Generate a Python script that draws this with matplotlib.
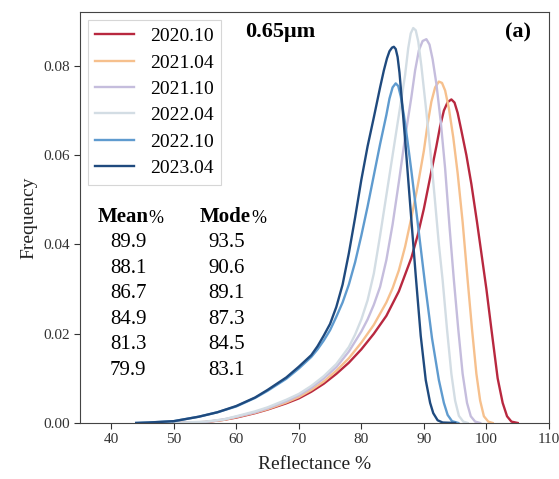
import matplotlib
matplotlib.use('Agg')
import matplotlib.pyplot as plt

plt.rcParams['font.family'] = ['Liberation Serif', 'DejaVu Serif']

# series
labels = ['2020.10', '2021.04', '2021.10', '2022.04', '2022.10', '2023.04']
colors = ['#b8283f', '#f6c08d', '#c5bddd', '#d3dde4', '#5f9bcf', '#1f4a7e']

x_2020_10 = [50, 55, 58, 60, 63, 65, 68, 70, 72, 74, 76, 78, 80, 82, 84, 86, 88, 89, 90, 91, 92,
             92.6, 93.2, 93.8, 94.4, 94.9, 95.4, 96.0, 96.8, 97.6, 98.5, 99.3, 100, 100.8, 101.8,
             102.6, 103.3, 104, 105]
y_2020_10 = [0, 0.0002, 0.0007, 0.0012, 0.0022, 0.0030, 0.0044, 0.0055, 0.0070, 0.0088, 0.0110, 0.0135,
             0.0165, 0.0200, 0.0240, 0.0295, 0.0370, 0.0420, 0.0480, 0.0550, 0.0620, 0.0665, 0.0700,
             0.0719, 0.0725, 0.0718, 0.0695, 0.0655, 0.0600, 0.0535, 0.0450, 0.0370, 0.0300, 0.0210,
             0.0100, 0.0045, 0.0015, 0.0003, 0]

x_2021_04 = [50, 55, 58, 60, 63, 65, 68, 70, 72, 74, 76, 78, 80, 82, 84, 85, 86, 87, 88, 89, 90,
             90.6, 91.2, 91.8, 92.4, 92.9, 93.4, 94.0, 94.7, 95.4, 96.2, 97, 97.7, 98.4, 99, 99.6,
             100.3, 101]
y_2021_04 = [0, 0.0002, 0.0007, 0.0013, 0.0023, 0.0031, 0.0046, 0.0058, 0.0074, 0.0093, 0.0117, 0.0145,
             0.0180, 0.0220, 0.0270, 0.0302, 0.0342, 0.0395, 0.0460, 0.0530, 0.0610, 0.0670, 0.0720,
             0.0752, 0.0765, 0.0762, 0.0745, 0.0705, 0.0640, 0.0560, 0.0450, 0.0320, 0.0210, 0.0110,
             0.0050, 0.0015, 0.0003, 0]

x_2021_10 = [50, 55, 58, 60, 63, 65, 68, 70, 72, 74, 76, 78, 80, 81, 82, 83, 84, 85, 86, 87, 88,
             88.6, 89.2, 89.8, 90.4, 90.9, 91.4, 92.0, 92.7, 93.4, 94.1, 94.8, 95.5, 96.2, 96.9,
             97.5, 98.2, 99]
y_2021_10 = [0, 0.0002, 0.0008, 0.0014, 0.0024, 0.0033, 0.0049, 0.0062, 0.0079, 0.0100, 0.0125, 0.0160,
             0.0205, 0.0232, 0.0265, 0.0305, 0.0365, 0.0445, 0.0540, 0.0640, 0.0730, 0.0790, 0.0835,
             0.0856, 0.0860, 0.0848, 0.0815, 0.0760, 0.0675, 0.0570, 0.0440, 0.0320, 0.0210, 0.0110,
             0.0045, 0.0015, 0.0003, 0]

x_2022_04 = [50, 55, 58, 60, 63, 65, 68, 70, 72, 74, 76, 78, 79, 80, 81, 82, 83, 84, 85, 86, 87,
             87.5, 87.9, 88.3, 88.7, 89.1, 89.6, 90.3, 91, 91.7, 92.4, 93, 93.7, 94.4, 95, 95.6,
             96.3, 97]
y_2022_04 = [0, 0.0003, 0.0008, 0.0015, 0.0026, 0.0035, 0.0052, 0.0065, 0.0083, 0.0105, 0.0132, 0.0170,
             0.0198, 0.0232, 0.0275, 0.0335, 0.0420, 0.0510, 0.0600, 0.0690, 0.0780, 0.0840, 0.0873,
             0.0885, 0.0880, 0.0855, 0.0800, 0.0710, 0.0615, 0.0510, 0.0400, 0.0320, 0.0210, 0.0110,
             0.0050, 0.0016, 0.0003, 0]

x_2022_10 = [44, 46, 50, 54, 57, 60, 63, 65, 68, 70, 72, 73, 74, 75, 76, 77, 78, 79, 80, 81, 82, 83,
             84, 84.5, 85.0, 85.5, 85.9, 86.3, 86.8, 87.4, 88.0, 89.0, 90.2, 91.3, 92.4, 93.2, 93.8,
             94.5, 95.5]
y_2022_10 = [0, 0.0001, 0.0004, 0.0014, 0.0024, 0.0037, 0.0056, 0.0072, 0.0099, 0.0122, 0.0148, 0.0165,
             0.0185, 0.0208, 0.0238, 0.0270, 0.0310, 0.0360, 0.0420, 0.0485, 0.0555, 0.0625, 0.0690,
             0.0727, 0.0752, 0.0761, 0.0755, 0.0732, 0.0690, 0.0630, 0.0565, 0.0450, 0.0310, 0.0190,
             0.0096, 0.0045, 0.0018, 0.0004, 0]

x_2023_04 = [44, 46, 50, 54, 57, 60, 63, 65, 68, 70, 72, 73, 74, 75, 76, 77, 78, 79, 80, 81, 82, 83,
             83.6, 84.1, 84.5, 84.9, 85.2, 85.5, 85.8, 86.1, 86.5, 87.0, 87.5, 88.0, 88.7, 89.5, 90.3,
             91.0, 91.5, 92.2, 93, 95]
y_2023_04 = [0, 0.0001, 0.0004, 0.0014, 0.0024, 0.0038, 0.0057, 0.0074, 0.0102, 0.0126, 0.0152, 0.0172,
             0.0196, 0.0222, 0.0260, 0.0310, 0.0380, 0.0460, 0.0545, 0.0620, 0.0685, 0.0752, 0.0790,
             0.0817, 0.0833, 0.0841, 0.0843, 0.0838, 0.0820, 0.0785, 0.0720, 0.0635, 0.0545, 0.0455,
             0.0330, 0.0195, 0.0096, 0.0045, 0.0022, 0.0006, 0.0001, 0]

xs = [x_2020_10, x_2021_04, x_2021_10, x_2022_04, x_2022_10, x_2023_04]
ys = [y_2020_10, y_2021_04, y_2021_10, y_2022_04, y_2022_10, y_2023_04]

mean_vals = ['89.9', '88.1', '86.7', '84.9', '81.3', '79.9']
mode_vals = ['93.5', '90.6', '89.1', '87.3', '84.5', '83.1']

fig = plt.figure(figsize=(5.59, 4.79), dpi=100)
ax = fig.add_axes([0.143, 0.117, 0.839, 0.858])

for x, y, c, lab in zip(xs, ys, colors, labels):
    ax.plot(x, y, color=c, lw=1.7, label=lab)

ax.set_xlim(35, 110)
ax.set_ylim(0, 0.0921)
ax.set_xticks(range(40, 111, 10))
ax.set_yticks([0, 0.02, 0.04, 0.06, 0.08])
ax.set_yticklabels(['0.00', '0.02', '0.04', '0.06', '0.08'])
ax.tick_params(labelsize=11, colors='#333333', length=4)
for s in ax.spines.values():
    s.set_color('#444444')

ax.set_xlabel('Reflectance %', fontsize=14, color='#222222', labelpad=7)
ax.set_ylabel('Frequency', fontsize=14, color='#222222')

leg = ax.legend(loc='upper left', fontsize=14, handlelength=2.0, handletextpad=0.8,
                labelspacing=0.45, fancybox=False, edgecolor='#cccccc', borderaxespad=0.4)
leg.get_frame().set_linewidth(0.8)

ax.text(0.352, 0.951, '0.65μm', transform=ax.transAxes, fontsize=16, fontweight='bold',
        ha='left', va='center')
ax.text(0.962, 0.951, '(a)', transform=ax.transAxes, fontsize=16, fontweight='bold',
        ha='right', va='center')

# small table of mean / mode values
h1 = ax.text(0.038, 0.501, 'Mean', transform=ax.transAxes, fontsize=15, fontweight='bold',
             ha='left', va='center')
ax.annotate('%', xy=(1, 0), xycoords=h1, fontsize=13, ha='left', va='bottom')
h2 = ax.text(0.256, 0.501, 'Mode', transform=ax.transAxes, fontsize=15, fontweight='bold',
             ha='left', va='center')
ax.annotate('%', xy=(1, 0), xycoords=h2, fontsize=13, ha='left', va='bottom')

row_y = [0.438, 0.376, 0.314, 0.252, 0.190, 0.128]
for yy, mv, md in zip(row_y, mean_vals, mode_vals):
    ax.text(0.064, yy, mv, transform=ax.transAxes, fontsize=15, ha='left', va='center')
    ax.text(0.273, yy, md, transform=ax.transAxes, fontsize=15, ha='left', va='center')

fig.savefig('out.png', dpi=100)
